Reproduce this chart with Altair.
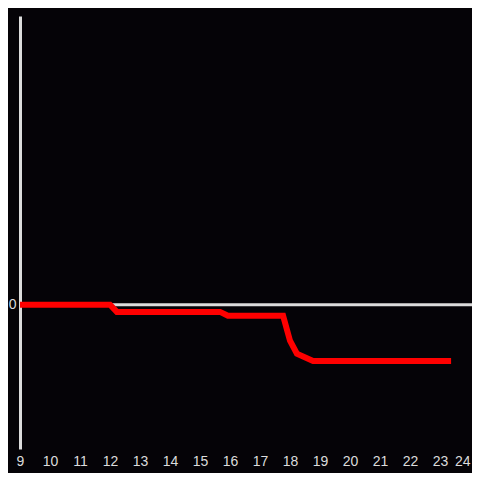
import altair as alt
import pandas as pd

hours = [9.0, 12.0, 12.23, 15.67, 15.93, 17.77, 18.0, 18.23, 18.77, 23.37]
values = [0.0, 0.0, -0.05, -0.05, -0.076, -0.076, -0.25, -0.34, -0.39, -0.39]
tick_hours = list(range(9, 25))

df = pd.DataFrame({"hour": hours, "value": values})
zero = pd.DataFrame({"y": [0]})

x_scale = alt.Scale(domain=[9, 24.0667], nice=False, zero=False)
y_scale = alt.Scale(domain=[-1, 2], nice=False)

axis_color = "#dcdcdc"

line = alt.Chart(df).mark_line(
    color="#ff0000", strokeWidth=6, strokeCap="butt", strokeJoin="miter", clip=False
).encode(
    x=alt.X("hour:Q", scale=x_scale,
            axis=alt.Axis(values=tick_hours, title=None, domain=False, ticks=False,
                          grid=False, labelColor=axis_color, labelFontSize=14,
                          labelPadding=5, labelFont="Liberation Sans", labelFlush=False,
                          labelBound=False, labelOverlap=False, format="d",
                          labelAlign=alt.condition("datum.value == 24", alt.value("right"), alt.value("center")))),
    y=alt.Y("value:Q", scale=y_scale,
            axis=alt.Axis(values=[0], title=None, domain=True, domainColor=axis_color,
                          domainWidth=3, ticks=False, grid=False, labelColor=axis_color,
                          labelFontSize=14, labelPadding=4, labelFont="Liberation Sans",
                          format="d")),
)

rule = alt.Chart(zero).mark_rule(color=axis_color, strokeWidth=3).encode(
    y=alt.Y("y:Q", scale=y_scale)
)

chart = (rule + line).properties(
    width=452, height=433,
    background="#050307",
    autosize=alt.AutoSizeParams(type="none"),
    padding={"left": 12, "top": 8, "right": 0, "bottom": 24},
).configure_view(stroke=None)

chart.save("out.html", embed_options={"renderer": "svg", "actions": False})
